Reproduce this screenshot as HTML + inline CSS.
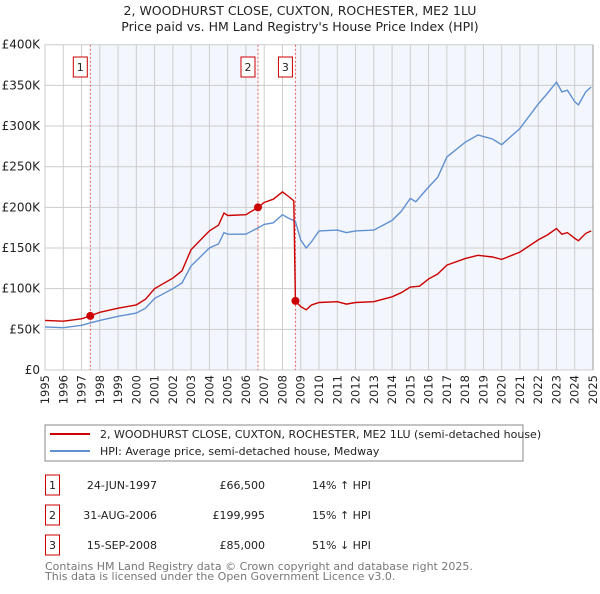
<!DOCTYPE html>
<html><head><meta charset="utf-8">
<style>
body{margin:0;background:#fff;width:600px;height:590px;overflow:hidden;font-family:"DejaVu Sans","Liberation Sans",sans-serif;}
svg text{font-family:"DejaVu Sans","Liberation Sans",sans-serif;}
</style></head>
<body>
<svg id="chart" width="600" height="590" xmlns="http://www.w3.org/2000/svg">
<text x="300" y="15" text-anchor="middle" font-size="12.5" fill="#222">2, WOODHURST CLOSE, CUXTON, ROCHESTER, ME2 1LU</text>
<text x="300" y="31" text-anchor="middle" font-size="12.5" fill="#222">Price paid vs. HM Land Registry's House Price Index (HPI)</text>
<g id="plot"></g>
<rect x="45" y="425" width="478" height="36" fill="#fff" stroke="#888" stroke-width="1"/>
<line x1="50" y1="434" x2="90" y2="434" stroke="#cc0000" stroke-width="2"/>
<text x="100" y="438" font-size="11" fill="#222">2, WOODHURST CLOSE, CUXTON, ROCHESTER, ME2 1LU (semi-detached house)</text>
<line x1="50" y1="451" x2="90" y2="451" stroke="#6090d0" stroke-width="2"/>
<text x="100" y="455" font-size="11" fill="#222">HPI: Average price, semi-detached house, Medway</text>
<g id="table" font-size="11" fill="#222"></g>
<text x="45" y="570" font-size="11" fill="#777">Contains HM Land Registry data © Crown copyright and database right 2025.</text>
<text x="45" y="580" font-size="11" fill="#777">This data is licensed under the Open Government Licence v3.0.</text>
</svg>
<script>
const hpiYears=[1995,1996,1997,1997.5,1998,1999,2000,2000.5,2001,2002,2002.5,2003,2004,2004.5,2004.8,2005,2006,2006.67,2007,2007.5,2008,2008.3,2008.7,2009,2009.3,2009.6,2010,2011,2011.5,2012,2013,2014,2014.5,2015,2015.3,2016,2016.5,2017,2018,2018.7,2019.5,2020,2021,2022,2022.5,2023,2023.3,2023.6,2024,2024.2,2024.6,2024.9];
const hpiValues=[53,52,55,58,61,66,70,76,88,100,107,128,150,155,169,167,167,175,179,181,191,187,183,160,150,158,171,172,169,171,172,184,195,211,207,225,237,262,280,289,284,277,297,327,340,354,342,344,330,326,342,348];
const ppYears=[1995,1996,1997,1997.48,1998,1999,2000,2000.5,2001,2002,2002.5,2003,2004,2004.5,2004.8,2005,2006,2006.66,2007,2007.5,2008,2008.3,2008.62,2008.71,2009,2009.3,2009.6,2010,2011,2011.5,2012,2013,2014,2014.5,2015,2015.5,2016,2016.5,2017,2018,2018.7,2019.5,2020,2021,2022,2022.5,2023,2023.3,2023.6,2024,2024.2,2024.6,2024.9];
const ppValues=[61,60,63,66.5,71,76,80,87,100,113,122,148,171,178,193,190,191,200,206,210,219,214,208,85,78,74,80,83,84,81,83,84,90,95,102,103,112,118,129,137,141,139,136,145,160,166,174,167,169,162,159,168,171];
const saleYears=[1997.48,2006.66,2008.71];
const saleValues=[66.5,199.995,85];
const saleLabels=["1","2","3"];
const saleDates=["24-JUN-1997","31-AUG-2006","15-SEP-2008"];
const salePrices=["£66,500","£199,995","£85,000"];
const saleDiffs=["14% ↑ HPI","15% ↑ HPI","51% ↓ HPI"];
const yTicks=[0,50,100,150,200,250,300,350,400];
const yTickLabels=["£0","£50K","£100K","£150K","£200K","£250K","£300K","£350K","£400K"];
const xTicks=[1995,1996,1997,1998,1999,2000,2001,2002,2003,2004,2005,2006,2007,2008,2009,2010,2011,2012,2013,2014,2015,2016,2017,2018,2019,2020,2021,2022,2023,2024,2025];

const NS="http://www.w3.org/2000/svg";
const L=45,R=593,T=44.7,B=370;
const xs=y=>L+(y-1995)/30*(R-L);
const ys=v=>B-v/400*(B-T);
const plot=document.getElementById('plot');
function mk(tag,attrs,parent){const e=document.createElementNS(NS,tag);for(const k in attrs)e.setAttribute(k,attrs[k]);(parent||plot).appendChild(e);return e;}

mk('rect',{x:L,y:T,width:R-L,height:B-T,fill:'#fff'});
let s1=mk('rect',{x:xs(saleYears[0]),y:T,width:xs(saleYears[1])-xs(saleYears[0]),height:B-T,fill:'#eef3fc',opacity:0.7});


let s2=mk('rect',{x:xs(saleYears[2]),y:T,width:R-xs(saleYears[2]),height:B-T,fill:'#eef3fc',opacity:0.7});



yTicks.forEach((v,i)=>{
  let g=mk('line',{x1:L,x2:R,y1:ys(v),y2:ys(v),stroke:'#cccccc','stroke-width':1});
  
  
  let t=mk('text',{x:40,y:ys(v)+4,'text-anchor':'end','font-size':12,fill:'#222'});
  t.textContent=yTickLabels[i];
  
  
});
xTicks.forEach(y=>{
  let g=mk('line',{x1:xs(y),x2:xs(y),y1:T,y2:B,stroke:'#cccccc','stroke-width':1});
  
  
  let t=mk('text',{x:0,y:0,'text-anchor':'end','font-size':11.5,fill:'#222',transform:`translate(${xs(y)+4},${B+5}) rotate(-90)`});
  t.textContent=y;
  
  
});

saleYears.forEach((y,i)=>{
  let l=mk('line',{x1:xs(y),x2:xs(y),y1:T,y2:B,stroke:'#e06060','stroke-width':1,'stroke-dasharray':'2,2'});
  
  
  let r=mk('rect',{x:xs(y)-17,y:57,width:14,height:20,fill:'#fff',stroke:'#cc0000','stroke-width':1});
  
  
  let t=mk('text',{x:xs(y)-10,y:71,'text-anchor':'middle','font-size':11,fill:'#222'});
  t.textContent=saleLabels[i];
  
  
});

let hp=mk('path',{d:hpiYears.map((y,i)=>(i?'L':'M')+xs(y).toFixed(1)+','+ys(hpiValues[i]).toFixed(1)).join(''),fill:'none',stroke:'#6090d0','stroke-width':1.4});


let pp=mk('path',{d:ppYears.map((y,i)=>(i?'L':'M')+xs(y).toFixed(1)+','+ys(ppValues[i]).toFixed(1)).join(''),fill:'none',stroke:'#cc0000','stroke-width':1.4});


saleYears.forEach((y,i)=>{
  let c=mk('circle',{cx:xs(y),cy:ys(saleValues[i]),r:4,fill:'#cc0000'});
  
  
});
mk('line',{x1:R,x2:R,y1:T,y2:B,stroke:'#999','stroke-width':1});

const table=document.getElementById('table');
saleYears.forEach((y,i)=>{
  const cy=485+i*30;
  let r=mk('rect',{x:45.5,y:cy-10,width:14,height:20,fill:'#fff',stroke:'#cc0000','stroke-width':1},table);
  
  
  let a=mk('text',{x:52.5,y:cy+4,'text-anchor':'middle'},table);a.textContent=saleLabels[i];
  
  
  let d=mk('text',{x:157,y:cy+4,'text-anchor':'end'},table);d.textContent=saleDates[i];
  
  
  let p=mk('text',{x:265,y:cy+4,'text-anchor':'end'},table);p.textContent=salePrices[i];
  
  
  let h=mk('text',{x:312,y:cy+4},table);h.textContent=saleDiffs[i];
  
  
});
</script>
</body></html>
